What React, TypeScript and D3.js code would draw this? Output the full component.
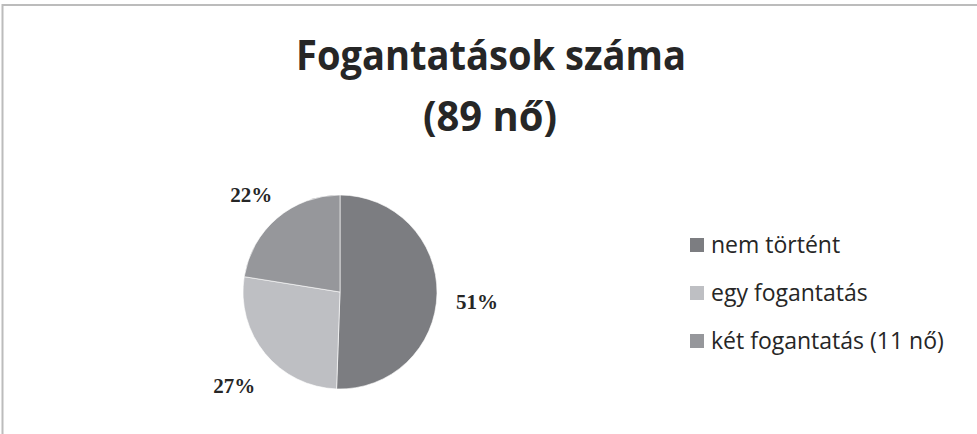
import React from "react";
import * as d3 from "d3";

const titleLines = ["Fogantatások száma", "(89 nő)"];
const categories = ["nem történt", "egy fogantatás", "két fogantatás (11 nő)"];
const counts = [45, 24, 20];
const percentLabels = ["51%", "27%", "22%"];
const colors = ["#7c7d81", "#bebfc3", "#96979b"];

const W = 977;
const H = 434;

export default function App() {
  const cx = 340;
  const cy = 292;
  const R = 97;
  const pie = d3.pie<number>().sort(null).value((d) => d)(counts);
  const arc = d3.arc<d3.PieArcDatum<number>>().innerRadius(0).outerRadius(R);
  const sansFont = "'Open Sans', 'Noto Sans', sans-serif";

  return (
    <svg
      width={W}
      height={H}
      style={{ position: "absolute", left: 0, top: 0, background: "#fff" }}
    >
      <rect x={2.5} y={5} width={W + 10} height={H + 10} fill="#fff" stroke="#bcbcbc" strokeWidth={2} />
      <text
        x={491}
        y={70}
        textAnchor="middle"
        fontFamily={sansFont}
        fontWeight="bold"
        fontSize={41}
        fill="#262626"
        textLength={390}
        lengthAdjust="spacingAndGlyphs"
      >
        {titleLines[0]}
      </text>
      <text
        x={490}
        y={131}
        textAnchor="middle"
        fontFamily={sansFont}
        fontWeight="bold"
        fontSize={41}
        fill="#262626"
        textLength={134}
        lengthAdjust="spacingAndGlyphs"
      >
        {titleLines[1]}
      </text>
      <g transform={`translate(${cx},${cy})`}>
        {pie.map((d, i) => (
          <path key={i} d={arc(d) || ""} fill={colors[i]} stroke="#fff" strokeWidth={0.6} />
        ))}
        {pie.map((d, i) => {
          const a = (d.startAngle + d.endAngle) / 2;
          const r = R + 40;
          const x = r * Math.sin(a);
          const y = -r * Math.cos(a) + 7;
          return (
            <text
              key={"l" + i}
              x={x}
              y={y}
              dy="0.35em"
              textAnchor="middle"
              fontFamily="'Liberation Serif', 'Times New Roman', serif"
              fontWeight="bold"
              fontSize={21}
              fill="#262626"
            >
              {percentLabels[i]}
            </text>
          );
        })}
      </g>
      <g>
        {categories.map((c, i) => (
          <g key={c} transform={`translate(690,${245 + i * 48})`}>
            <rect x={0} y={-7} width={14} height={14} fill={colors[i]} />
            <text
              x={21}
              y={0}
              dy="0.35em"
              fontFamily={sansFont}
              fontSize={23}
              fill="#262626"
            >
              {c}
            </text>
          </g>
        ))}
      </g>
    </svg>
  );
}
